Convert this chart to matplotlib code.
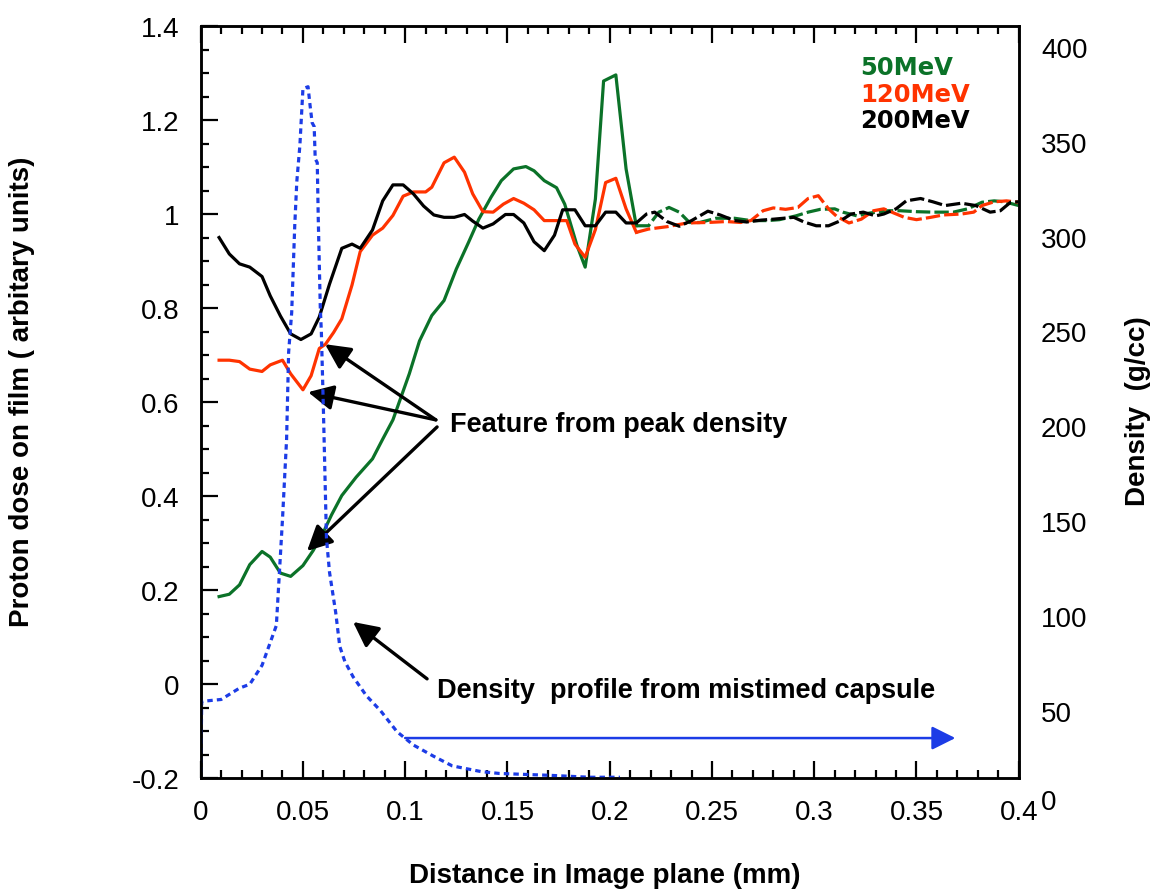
import numpy as np
import matplotlib.pyplot as plt
from matplotlib.ticker import MultipleLocator, FormatStrFormatter, FixedLocator

plt.rcParams['font.family'] = ['Liberation Sans', 'DejaVu Sans']
plt.rcParams['axes.unicode_minus'] = False

# proton dose on film, 50 MeV
green_x = [0.009, 0.014, 0.019, 0.024, 0.030, 0.034, 0.039, 0.044, 0.050, 0.055,
           0.060, 0.064, 0.069, 0.076, 0.084, 0.089, 0.094, 0.098, 0.102, 0.107,
           0.113, 0.119, 0.125, 0.131, 0.136, 0.142, 0.147, 0.153, 0.159, 0.163,
           0.168, 0.174, 0.178, 0.184, 0.188, 0.193, 0.197, 0.203, 0.208, 0.213,
           0.219, 0.224, 0.229, 0.234, 0.239, 0.244, 0.252, 0.261, 0.269, 0.277,
           0.283, 0.291, 0.297, 0.303, 0.310, 0.314, 0.321, 0.327, 0.336, 0.342,
           0.350, 0.358, 0.368, 0.375, 0.382, 0.388, 0.393, 0.400]
green_y = [0.186, 0.191, 0.211, 0.254, 0.282, 0.270, 0.236, 0.229, 0.252, 0.284,
           0.323, 0.360, 0.401, 0.440, 0.479, 0.521, 0.562, 0.611, 0.660, 0.730,
           0.784, 0.816, 0.883, 0.940, 0.989, 1.036, 1.071, 1.096, 1.101, 1.092,
           1.071, 1.056, 1.021, 0.933, 0.887, 1.032, 1.283, 1.296, 1.096, 0.975,
           0.975, 1.004, 1.014, 1.004, 0.982, 0.982, 0.991, 0.991, 0.986, 0.986,
           0.988, 0.996, 1.004, 1.010, 1.011, 1.004, 0.996, 1.002, 1.007, 1.007,
           1.005, 1.004, 1.004, 1.011, 1.025, 1.028, 1.026, 1.018]

# 120 MeV
red_x = [0.009, 0.014, 0.019, 0.024, 0.030, 0.034, 0.040, 0.044, 0.050, 0.054,
         0.058, 0.061, 0.065, 0.069, 0.074, 0.078, 0.084, 0.089, 0.094, 0.099,
         0.104, 0.110, 0.113, 0.119, 0.124, 0.129, 0.133, 0.138, 0.143, 0.148,
         0.153, 0.158, 0.163, 0.168, 0.174, 0.179, 0.183, 0.188, 0.193, 0.198,
         0.203, 0.208, 0.213, 0.219, 0.228, 0.238, 0.248, 0.257, 0.264, 0.269,
         0.275, 0.280, 0.286, 0.292, 0.297, 0.302, 0.307, 0.311, 0.317, 0.323,
         0.329, 0.334, 0.339, 0.344, 0.350, 0.357, 0.363, 0.372, 0.378, 0.382,
         0.388, 0.394, 0.400]
red_y = [0.689, 0.689, 0.686, 0.670, 0.665, 0.679, 0.689, 0.660, 0.626, 0.656,
         0.714, 0.723, 0.748, 0.777, 0.849, 0.920, 0.955, 0.970, 0.997, 1.038,
         1.047, 1.047, 1.057, 1.109, 1.121, 1.089, 1.043, 1.005, 1.004, 1.021,
         1.033, 1.023, 1.009, 0.986, 0.986, 0.986, 0.936, 0.908, 0.967, 1.067,
         1.076, 1.011, 0.961, 0.968, 0.973, 0.981, 0.982, 0.984, 0.982, 0.986,
         1.007, 1.013, 1.010, 1.014, 1.033, 1.039, 1.011, 0.995, 0.981, 0.989,
         1.007, 1.011, 1.002, 0.993, 0.988, 0.993, 0.998, 1.000, 1.004, 1.018,
         1.026, 1.028, 1.025]

# 200 MeV
black_x = [0.009, 0.014, 0.019, 0.024, 0.030, 0.034, 0.039, 0.044, 0.049, 0.054,
           0.058, 0.063, 0.069, 0.074, 0.078, 0.084, 0.089, 0.094, 0.099, 0.104,
           0.109, 0.114, 0.119, 0.124, 0.129, 0.133, 0.138, 0.143, 0.149, 0.153,
           0.158, 0.163, 0.168, 0.173, 0.177, 0.183, 0.188, 0.193, 0.198, 0.203,
           0.208, 0.213, 0.218, 0.222, 0.228, 0.234, 0.240, 0.248, 0.254, 0.261,
           0.267, 0.274, 0.280, 0.290, 0.295, 0.301, 0.307, 0.313, 0.318, 0.324,
           0.330, 0.334, 0.340, 0.345, 0.352, 0.358, 0.364, 0.372, 0.379, 0.386,
           0.391, 0.396, 0.400]
black_y = [0.950, 0.915, 0.894, 0.887, 0.867, 0.826, 0.783, 0.745, 0.733, 0.745,
           0.781, 0.851, 0.927, 0.936, 0.927, 0.966, 1.028, 1.062, 1.062, 1.043,
           1.017, 0.998, 0.993, 0.993, 0.999, 0.985, 0.970, 0.979, 0.999, 0.999,
           0.981, 0.941, 0.922, 0.955, 1.009, 1.009, 0.975, 0.975, 1.004, 1.004,
           0.981, 0.981, 1.000, 1.004, 0.984, 0.974, 0.986, 1.006, 0.998, 0.986,
           0.983, 0.987, 0.989, 0.993, 0.983, 0.975, 0.975, 0.986, 1.000, 1.004,
           0.996, 1.000, 1.011, 1.028, 1.033, 1.026, 1.018, 1.023, 1.018, 1.004,
           1.007, 1.025, 1.026]

# density profile (right axis, g/cc)
dens_x = [0.0, 0.0005, 0.010, 0.019, 0.024, 0.030, 0.035, 0.037, 0.040, 0.042,
          0.043, 0.0445, 0.046, 0.047, 0.0485, 0.050, 0.0525, 0.0535, 0.0545, 0.0555,
          0.056, 0.057, 0.0575, 0.0585, 0.059, 0.060, 0.0615, 0.063, 0.065, 0.066,
          0.068, 0.0705, 0.0745, 0.081, 0.088, 0.096, 0.104, 0.114, 0.123, 0.137,
          0.146, 0.171, 0.190, 0.205]
dens_y = [12.5, 55, 56, 62, 64, 74, 89, 95, 151, 193,
          239, 260, 306, 329, 348, 378, 379, 369, 360, 358,
          341, 339, 309, 262, 250, 209, 141, 123, 109, 102,
          84, 76, 68, 58, 50, 39, 32, 26, 21, 18,
          17, 16, 15, 15]

dens_ticks = [50, 100, 150, 200, 250, 300, 350, 400]

green = '#0b7228'
red = '#ff3300'
blue = '#1c3ce6'

fig = plt.figure(figsize=(11.54, 8.95), dpi=100)
ax = fig.add_axes([0.1739, 0.1296, 0.7089, 0.8402])


def split_plot(x, y, color, cut=0.21):
    # solid up to the cut, dashed afterwards (as in the original figure)
    x = np.asarray(x)
    y = np.asarray(y)
    k = np.searchsorted(x, cut)
    ax.plot(x[:k + 1], y[:k + 1], color=color, lw=2.3)
    ax.plot(x[k:], y[k:], color=color, lw=2.3, dashes=(4.5, 1.3))


split_plot(green_x, green_y, green)
split_plot(red_x, red_y, red)
split_plot(black_x, black_y, 'black')

ax.set_xlim(0, 0.4)
ax.set_ylim(-0.2, 1.4)
ax.xaxis.set_major_locator(MultipleLocator(0.05))
ax.xaxis.set_minor_locator(MultipleLocator(0.01))
ax.yaxis.set_major_locator(MultipleLocator(0.2))
ax.yaxis.set_minor_locator(MultipleLocator(0.05))
ax.xaxis.set_major_formatter(FormatStrFormatter('%g'))
ax.yaxis.set_major_formatter(FormatStrFormatter('%g'))
ax.tick_params(which='both', direction='in', top=True, right=True, width=1.6)
ax.tick_params(which='major', length=12, labelsize=20, pad=15)
ax.tick_params(which='minor', length=6)
for s in ax.spines.values():
    s.set_linewidth(1.8)

# right axis for the density
ax2 = ax.twinx()
ax2.plot(dens_x, dens_y, color=blue, lw=2.3, dashes=(1.7, 1.3))
ax2.set_ylim(14.6, 411)
ax2.yaxis.set_major_locator(FixedLocator(dens_ticks))
ax2.yaxis.set_minor_locator(FixedLocator([]))
ax2.tick_params(length=0, labelsize=20, pad=16)
ax2.annotate('0', xy=(0.4, 0), xytext=(16, 3), textcoords='offset points',
             ha='left', va='center', fontsize=20, annotation_clip=False)
for s in ax2.spines.values():
    s.set_linewidth(1.8)

# labels
ax.set_xlabel('Distance in Image plane (mm)', fontsize=20, fontweight='bold')
ax.xaxis.set_label_coords(0.494, -0.112)
ax.set_ylabel('Proton dose on film ( arbitary units)', fontsize=20, fontweight='bold')
ax.yaxis.set_label_coords(-0.203, 0.515)
ax2.set_ylabel('Density  (g/cc)', fontsize=20, fontweight='bold')
ax2.yaxis.set_label_coords(1.130, 0.489)

# energy labels
for txt, col, yy in [('50MeV', green, 0.9455), ('120MeV', red, 0.9096), ('200MeV', 'black', 0.875)]:
    ax.text(0.806, yy, txt, transform=ax.transAxes, color=col, fontsize=17.5,
            fontweight='bold', family='DejaVu Sans', va='center')

# annotations
arrow = dict(arrowstyle='-|>', color='black', lw=2.4, mutation_scale=38, shrinkA=0, shrinkB=0)
ax.annotate('', xy=(0.0608, 0.723), xytext=(0.115, 0.562), arrowprops=arrow)
ax.annotate('', xy=(0.0525, 0.621), xytext=(0.115, 0.562), arrowprops=arrow)
ax.annotate('', xy=(0.052, 0.283), xytext=(0.1156, 0.547), arrowprops=arrow)
ax.text(0.122, 0.553, 'Feature from peak density', fontsize=19.5, fontweight='bold', va='center')

ax.annotate('', xy=(0.0745, 0.132), xytext=(0.1107, 0.011), arrowprops=arrow)
ax.text(0.1156, -0.013, 'Density  profile from mistimed capsule', fontsize=19.5,
        fontweight='bold', va='center')

ax.annotate('', xy=(0.369, -0.115), xytext=(0.1, -0.115),
            arrowprops=dict(arrowstyle='-|>', color=blue, lw=1.8, mutation_scale=36,
                            shrinkA=0, shrinkB=0))

fig.savefig('out.png', dpi=100)
